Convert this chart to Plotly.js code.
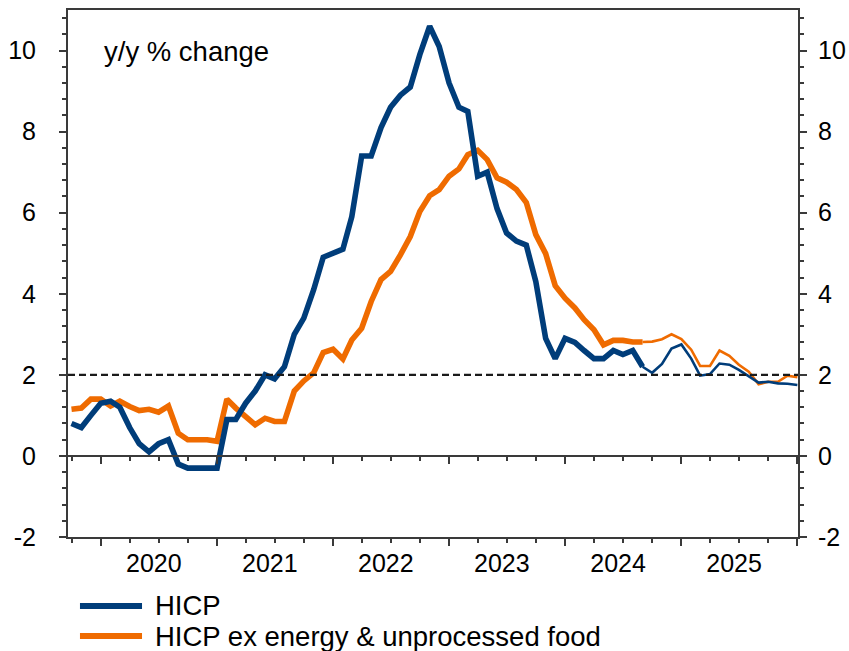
<!DOCTYPE html>
<html>
<head>
<meta charset="utf-8">
<script src="https://cdn.plot.ly/plotly-3.0.1.min.js"></script>
<style>
html,body{margin:0;padding:0;background:#fff;}
#chart{width:849px;height:651px;}
</style>
</head>
<body>
<div id="chart"></div>
<script>
// ---- data (monthly, Sep 2019 .. Dec 2025), each value plotted at month end ----
const startYear = 2019, startMonth = 9;
const hicp = [
  0.8, 0.7, 1.0, 1.3,
  1.35, 1.2, 0.7, 0.3, 0.1, 0.3, 0.4, -0.2, -0.3, -0.3, -0.3, -0.3,
  0.9, 0.9, 1.3, 1.6, 2.0, 1.9, 2.2, 3.0, 3.4, 4.1, 4.9, 5.0,
  5.1, 5.9, 7.4, 7.4, 8.1, 8.6, 8.9, 9.1, 9.9, 10.6, 10.1, 9.2,
  8.6, 8.5, 6.9, 7.0, 6.1, 5.5, 5.3, 5.2, 4.3, 2.9, 2.4, 2.9,
  2.8, 2.6, 2.4, 2.4, 2.6, 2.5, 2.6, 2.2,
  2.05, 2.27, 2.65, 2.75, 2.4, 1.98, 2.02, 2.28, 2.25, 2.12, 1.96, 1.81, 1.83, 1.79, 1.78, 1.75
];
const hicpExEnergyFood = [
  1.15, 1.18, 1.4, 1.4,
  1.23, 1.35, 1.22, 1.12, 1.15, 1.08, 1.23, 0.56, 0.4, 0.4, 0.4, 0.36,
  1.4, 1.18, 0.96, 0.77, 0.93, 0.85, 0.85, 1.6, 1.85, 2.05, 2.55, 2.63,
  2.39, 2.86, 3.15, 3.81, 4.35, 4.55, 4.96, 5.41, 6.03, 6.42, 6.57, 6.9,
  7.08, 7.43, 7.54, 7.31, 6.86, 6.75, 6.57, 6.25, 5.46, 4.99, 4.2, 3.89,
  3.65, 3.36, 3.11, 2.74, 2.85, 2.85, 2.81, 2.81,
  2.82, 2.88, 3.0, 2.88, 2.62, 2.22, 2.22, 2.6, 2.47, 2.25, 2.08, 1.77, 1.83, 1.83, 1.98, 1.94
];
const lastActualIndex = 59;          // Aug 2024: thick (outturn) ends, thin (projection) starts
const targetLevel = 2;
const seriesNames = ['HICP', 'HICP ex energy & unprocessed food'];
const yearLabels = ['2020', '2021', '2022', '2023', '2024', '2025'];
const yTickVals = [-2, 0, 2, 4, 6, 8, 10];
const yTickText = ['-2', '0', '2', '4', '6', '8', '10'];
const panelLabel = 'y/y % change';

// ---- styling ----
const BLUE = '#003d7a', ORANGE = '#ef6b00', AX = '#3a3a3a';
const FONT = 'Liberation Sans, Arial, Helvetica, sans-serif';

function monthEnd(i) {
  const d = new Date(Date.UTC(startYear, startMonth - 1 + i + 1, 1));
  return d.toISOString().slice(0, 10);
}
const dates = hicp.map((_, i) => monthEnd(i));
const xRange = ['2019-09-20', '2026-01-03'];
const yRange = [-2, 11];

function seg(arr, a, b) { return arr.slice(a, b); }
const n = hicp.length;

const traces = [
  {x: seg(dates, 0, lastActualIndex + 1), y: seg(hicpExEnergyFood, 0, lastActualIndex + 1), name: seriesNames[1],
   type: 'scatter', mode: 'lines', line: {color: ORANGE, width: 5.6}},
  {x: seg(dates, lastActualIndex, n), y: seg(hicpExEnergyFood, lastActualIndex, n), name: seriesNames[1] + ' (proj.)',
   type: 'scatter', mode: 'lines', line: {color: ORANGE, width: 2.6}},
  {x: seg(dates, 0, lastActualIndex + 1), y: seg(hicp, 0, lastActualIndex + 1), name: seriesNames[0],
   type: 'scatter', mode: 'lines', line: {color: BLUE, width: 5.6}},
  {x: seg(dates, lastActualIndex, n), y: seg(hicp, lastActualIndex, n), name: seriesNames[0] + ' (proj.)',
   type: 'scatter', mode: 'lines', line: {color: BLUE, width: 2.6}},
  // empty helper traces so that the extra axes (right y axis, zero-line axis, year labels) are drawn
  {x: [null], y: [null], xaxis: 'x', yaxis: 'y2', type: 'scatter', mode: 'lines', hoverinfo: 'skip', showlegend: false},
  {x: [null], y: [null], xaxis: 'x2', yaxis: 'y', type: 'scatter', mode: 'lines', hoverinfo: 'skip', showlegend: false},
  {x: [null], y: [null], xaxis: 'x3', yaxis: 'y', type: 'scatter', mode: 'lines', hoverinfo: 'skip', showlegend: false}
];

const commonX = {
  type: 'date', range: xRange, showgrid: false, zeroline: false
};
const yCommon = {
  range: yRange, tickmode: 'array', tickvals: yTickVals, ticktext: yTickText,
  ticks: 'outside', ticklen: 7, tickwidth: 2, tickcolor: AX,
  showline: true, linecolor: AX, linewidth: 2, showgrid: false, zeroline: false,
  tickfont: {family: FONT, size: 25, color: '#000'},
  minor: {tickmode: 'linear', tick0: -2, dtick: 0.4, ticks: 'outside', ticklen: 4, tickwidth: 2, tickcolor: AX, showgrid: false}
};

const layout = {
  width: 849, height: 651,
  margin: {l: 68, r: 51, t: 10, b: 114, pad: 0},
  paper_bgcolor: '#fff', plot_bgcolor: '#fff',
  showlegend: false,
  font: {family: FONT, size: 25, color: '#000'},
  xaxis: Object.assign({}, commonX, {
    tickmode: 'linear', tick0: '2020-01-01', dtick: 'M12',
    ticks: 'outside', ticklen: 7, tickwidth: 2, tickcolor: AX,
    showticklabels: false, showline: true, linecolor: AX, linewidth: 2, mirror: true,
    minor: {tickmode: 'linear', tick0: '2019-10-01', dtick: 'M3', ticks: 'outside', ticklen: 4, tickwidth: 2, tickcolor: AX, showgrid: false}
  }),
  xaxis2: Object.assign({}, commonX, {
    overlaying: 'x', anchor: 'free', position: (0 - yRange[0]) / (yRange[1] - yRange[0]), side: 'bottom',
    tickmode: 'linear', tick0: '2020-01-01', dtick: 'M12',
    ticks: 'outside', ticklen: 7, tickwidth: 2, tickcolor: AX,
    showticklabels: false, showline: true, linecolor: AX, linewidth: 2,
    minor: {tickmode: 'linear', tick0: '2019-10-01', dtick: 'M3', ticks: 'outside', ticklen: 4, tickwidth: 2, tickcolor: AX, showgrid: false}
  }),
  xaxis3: Object.assign({}, commonX, {
    overlaying: 'x', anchor: 'y', side: 'bottom',
    tickmode: 'array', tickvals: yearLabels.map(y => y + '-06-16'), ticktext: yearLabels,
    ticks: '', showline: false, ticklabelstandoff: 9,
    tickfont: {family: FONT, size: 25, color: '#000'}
  }),
  yaxis: Object.assign({}, yCommon, {side: 'left', ticklabelstandoff: 18}),
  yaxis2: Object.assign({}, yCommon, {overlaying: 'y', side: 'right', anchor: 'x', ticklabelstandoff: 6}),
  shapes: [
    {type: 'line', xref: 'paper', x0: 0, x1: 1, yref: 'y', y0: targetLevel, y1: targetLevel,
     line: {color: '#1a1a1a', width: 2.3, dash: '7px,4px'}, layer: 'above'},
    // legend keys
    {type: 'line', xref: 'paper', yref: 'paper', x0: 0.0164, x1: 0.1014, y0: -0.1309, y1: -0.1309,
     line: {color: BLUE, width: 6}},
    {type: 'line', xref: 'paper', yref: 'paper', x0: 0.0164, x1: 0.1014, y0: -0.1880, y1: -0.1880,
     line: {color: ORANGE, width: 6}}
  ],
  annotations: [
    {text: panelLabel, xref: 'paper', yref: 'paper', x: 0.046, y: 0.922, xanchor: 'left', yanchor: 'middle',
     showarrow: false, font: {family: FONT, size: 27.5, color: '#000'}},
    {text: seriesNames[0], xref: 'paper', yref: 'paper', x: 0.117, y: -0.1309, xanchor: 'left', yanchor: 'middle',
     showarrow: false, font: {family: FONT, size: 27.5, color: '#000'}},
    {text: seriesNames[1], xref: 'paper', yref: 'paper', x: 0.117, y: -0.1880, xanchor: 'left', yanchor: 'middle',
     showarrow: false, font: {family: FONT, size: 27.5, color: '#000'}}
  ]
};

Plotly.newPlot('chart', traces, layout, {staticPlot: true, displayModeBar: false});
</script>
</body>
</html>
